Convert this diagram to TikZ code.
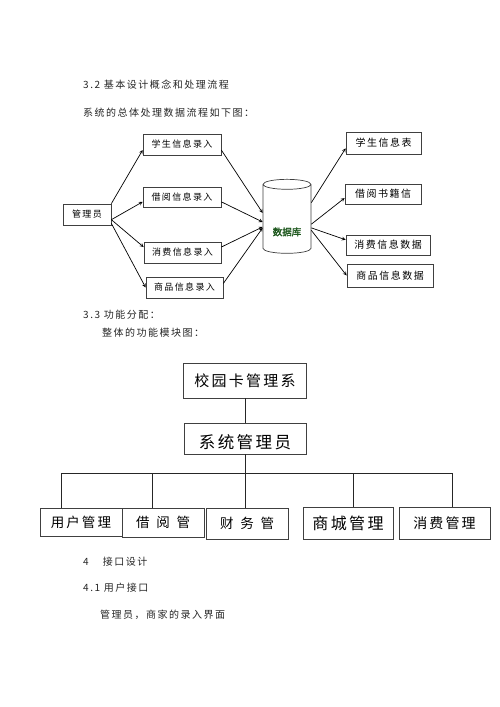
\documentclass[tikz,border=0pt]{standalone}
\usepackage{fontspec}
\newfontfamily\cjk[LetterSpace=15]{Noto Sans CJK SC}
\newfontfamily\cjkbold[FakeBold=2]{Noto Sans CJK SC}
\usetikzlibrary{shapes.geometric}
\definecolor{dbgreen}{RGB}{30,88,30}

\begin{document}
\begin{tikzpicture}[x=1pt,y=-1pt,
        box/.style={rectangle,draw=black!75,line width=0.7pt,inner sep=0pt,font=\cjk\fontsize{9}{9}\selectfont},
        table/.style={box,font=\cjk\fontsize{10}{10}\selectfont},
        unit/.style={rectangle,draw=black!75,line width=0.7pt,inner sep=0pt},
        para/.style={anchor=west,inner sep=0pt,text=black!85,font=\cjk\fontsize{10}{10}\selectfont},
        flow/.style={->,>=stealth,line width=0.7pt},
        tree/.style={draw=black!85,line width=0.8pt}
    ]
        \useasboundingbox[fill=white] (0,0) rectangle (500,707);

        % Headings
        \node[para] (h32) at (83,85) {3.2 基本设计概念和处理流程};
        \node[para] (h32b) at (83,113) {系统的总体处理数据流程如下图：};

        % Data flow
        \node[box,minimum width=48pt,minimum height=21pt] (mgr) at (87,214.5) {管理员};
        \node[box,minimum width=78pt,minimum height=21pt] (in1) at (182,144.5) {学生信息录入};
        \node[box,minimum width=78pt,minimum height=20pt] (in2) at (182,197) {借阅信息录入};
        \node[box,minimum width=77pt,minimum height=21pt] (in3) at (182.5,252.5) {消费信息录入};
        \node[box,minimum width=77pt,minimum height=21pt] (in4) at (184.5,287.5) {商品信息录入};
        \node[cylinder,shape border rotate=90,draw=black!75,line width=0.7pt,aspect=0.35,
              minimum width=48pt,minimum height=74pt,inner sep=0pt,
              text=dbgreen,font=\cjkbold\fontsize{9.5}{10}\selectfont] (db) at (287,219) {\raisebox{-16.5pt}[0pt][0pt]{数据库}};
        \node[table,minimum width=75pt,minimum height=22pt] (out1) at (383.5,143) {学生信息表};
        \node[table,minimum width=76pt,minimum height=20pt] (out2) at (383,194) {借阅书籍信};
        \node[table,minimum width=84pt,minimum height=20pt] (out3) at (388,245) {消费信息数据};
        \node[table,minimum width=86pt,minimum height=23pt] (out4) at (390,275.5) {商品信息数据};

        \draw[flow] (mgr.north east) -- (in1.188);
        \draw[flow] (mgr.-12) -- (in2.187);
        \draw[flow] (mgr.-12) -- (in3.172);
        \draw[flow] (mgr.-20) -- (in4.west);

        \draw[flow] (in1.-8) -- (db.166);
        \draw[flow] (in2.-7) -- (db.187);
        \draw[flow] (in3.8) -- (db.198);
        \draw[flow] (in4.6) -- (db.200);

        \draw[flow] (db.34) -- (out1.188);
        \draw[flow] (db.-12) -- (out2.186);
        \draw[flow] (db.-20) -- (out3.173);
        \draw[flow] (db.-25) -- (out4.west);

        % Module tree
        \node[para] (h33) at (83,315) {3.3 功能分配：};
        \node[para] (h33b) at (102,333) {整体的功能模块图：};

        \node[unit,minimum width=123pt,minimum height=35pt,font=\cjk\fontsize{15}{15}\selectfont] (root) at (245,380.5) {校园卡管理系};
        \node[unit,minimum width=122pt,minimum height=31pt,font=\cjk\fontsize{16.5}{16.5}\selectfont] (admin) at (245,438.5) {\raisebox{-10pt}[0pt][0pt]{系统管理员}};

        \node[unit,minimum width=82pt,minimum height=28pt,font=\cjk\fontsize{13.5}{13.5}\selectfont] (u1) at (81,522) {用户管理};
        \node[unit,minimum width=82pt,minimum height=29pt,font=\cjk\fontsize{13.5}{13.5}\selectfont] (u2) at (163,522.5) {借\enspace 阅\enspace 管};
        \node[unit,minimum width=82pt,minimum height=31pt,font=\cjk\fontsize{13.5}{13.5}\selectfont] (u3) at (247,523.5) {财\enspace 务\enspace 管};
        \node[unit,minimum width=90pt,minimum height=32pt,font=\cjk\fontsize{16}{16}\selectfont] (u4) at (348,523) {商城管理};
        \node[unit,minimum width=91pt,minimum height=32pt,font=\cjk\fontsize{14}{14}\selectfont] (u5) at (444.5,523) {消费管理};

        \coordinate (busL) at (61,473);
        \coordinate (busR) at (452,473);
        \coordinate (d2) at (152,473);
        \coordinate (d4) at (353,473);

        \draw[tree] (root) -- (admin);
        \draw[tree] (busL) -- (busR);
        \draw[tree] (admin.south) -- (admin.south |- u3.north);
        \draw[tree] (busL) -- (busL |- u1.north);
        \draw[tree] (d2) -- (d2 |- u2.north);
        \draw[tree] (d4) -- (d4 |- u4.north);
        \draw[tree] (busR) -- (busR |- u5.north);

        % Interface
        \node[para] (h4) at (83,562) {4\hspace{14pt}接口设计};
        \node[para] (h41) at (83,588) {4.1 用户接口};
        \node[para] (note) at (100,615) {管理员，商家的录入界面};
    \end{tikzpicture}
\end{document}
